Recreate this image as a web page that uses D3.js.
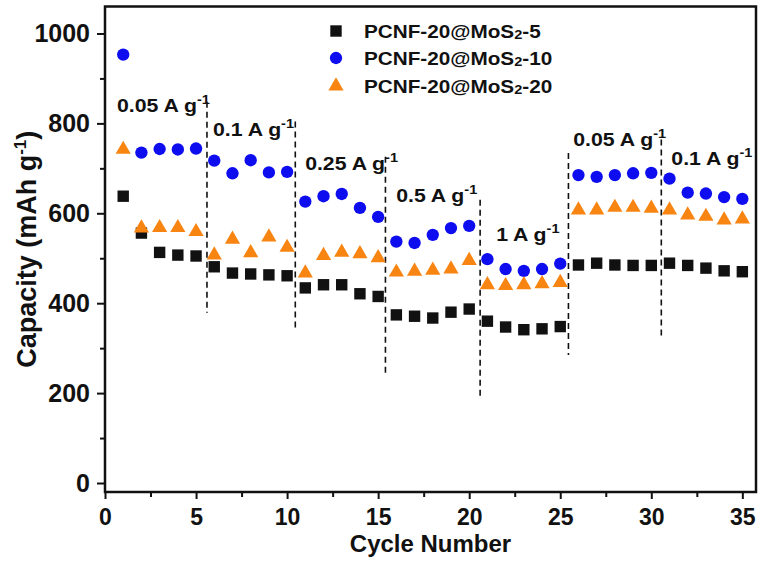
<!DOCTYPE html>
<html>
<head>
<meta charset="utf-8">
<script src="https://cdn.jsdelivr.net/npm/d3@7"></script>
<style>
  body{margin:0;background:#fff;}
  svg text{font-family:"Liberation Sans",Arial,sans-serif;font-weight:bold;fill:#111;}
</style>
</head>
<body>
<div id="grafico"></div>
<script>
// datos
const ciclos = [1,2,3,4,5,6,7,8,9,10,11,12,13,14,15,16,17,18,19,20,21,22,23,24,25,26,27,28,29,30,31,32,33,34,35];
const mos2_5  = [638,556,513,507,505,481,467,465,463,461,434,441,441,421,415,374,371,367,380,387,360,347,341,343,348,485,489,485,484,484,489,484,478,472,470];
const mos2_10 = [953,735,743,742,744,717,689,718,691,692,626,638,643,612,592,537,534,552,567,572,498,476,472,476,488,685,681,685,689,690,677,646,644,636,632];
const mos2_20 = [742,567,568,568,559,507,542,512,547,524,467,506,513,510,501,469,471,473,476,495,441,439,441,443,446,607,607,613,613,611,607,596,593,585,587];
const series = ["PCNF-20@MoS2-5","PCNF-20@MoS2-10","PCNF-20@MoS2-20"];

// corrientes: texto, posicion (ciclo, capacidad) y separadores
const corrientes = ["0.05","0.1","0.25","0.5","1","0.05","0.1"];
const etiquetaX  = [0.66,5.93,10.99,15.99,21.48,25.71,31.1];
const etiquetaY  = [825,772,696,625,538,750,707];
const separX     = [5.6,10.45,15.4,20.6,25.45,30.55];
const separTop   = [848,804,726,630,734,764];
const separBot   = [379,337,237,185,285,319];

const xTicks = [0,5,10,15,20,25,30,35];
const yTicks = [0,200,400,600,800,1000];

const ancho=761, alto=566;
const margin={top:6.5,left:105,right:5,bottom:74};

const svg=d3.select("#grafico").append("svg")
  .attr("width",ancho).attr("height",alto);

const x=d3.scaleLinear().domain([0,35.75]).range([margin.left,ancho-margin.right]);
const y=d3.scaleLinear().domain([-20,1060]).range([alto-margin.bottom,margin.top]);

// ejes
const ejeX=svg.append("g").attr("transform",`translate(0,${y(-20)})`)
  .call(d3.axisBottom(x).tickValues(xTicks).tickSize(7).tickFormat(d3.format("d")));
ejeX.select(".domain").remove();
ejeX.selectAll("line").attr("stroke","#111").attr("stroke-width",2);
ejeX.selectAll("text").attr("y",33).attr("dy",null).style("font-size","23px");

svg.append("g").attr("transform",`translate(0,${y(-20)})`)
  .call(d3.axisBottom(x).tickValues(d3.range(2.5,35,5)).tickSize(5).tickFormat(""))
  .call(g=>g.select(".domain").remove())
  .selectAll("line").attr("stroke","#111").attr("stroke-width",2);

const ejeY=svg.append("g").attr("transform",`translate(${x(0)},0)`)
  .call(d3.axisLeft(y).tickValues(yTicks).tickSize(8).tickPadding(7).tickFormat(d3.format("d")));
ejeY.select(".domain").remove();
ejeY.selectAll("line").attr("stroke","#111").attr("stroke-width",2);
ejeY.selectAll("text").style("font-size","25px");

svg.append("g").attr("transform",`translate(${x(0)},0)`)
  .call(d3.axisLeft(y).tickValues([100,300,500,700,900]).tickSize(5).tickFormat(""))
  .call(g=>g.select(".domain").remove())
  .selectAll("line").attr("stroke","#111").attr("stroke-width",2);

// marco
svg.append("rect")
  .attr("x",x(0)).attr("y",y(1060))
  .attr("width",x(35.75)-x(0)).attr("height",y(-20)-y(1060))
  .attr("fill","none").attr("stroke","#111").attr("stroke-width",2.5);

// titulos
svg.append("text").attr("x",(x(0)+x(35.75))/2).attr("y",552)
  .attr("text-anchor","middle").style("font-size","24px").text("Cycle Number");

const tituloY=svg.append("text")
  .attr("transform",`translate(36,${(y(1060)+y(-20))/2}) rotate(-90)`)
  .attr("text-anchor","middle").style("font-size","27px");
tituloY.append("tspan").text("Capacity (mAh g");
tituloY.append("tspan").attr("dy",-10).style("font-size","17px").text("-1");
tituloY.append("tspan").attr("dy",10).text(")");

// separadores
svg.selectAll(".separador").data(separX).enter().append("line")
  .attr("class","separador")
  .attr("x1",d=>x(d)).attr("x2",d=>x(d))
  .attr("y1",(d,i)=>y(separTop[i])).attr("y2",(d,i)=>y(separBot[i]))
  .attr("stroke","#111").attr("stroke-width",1.6).attr("stroke-dasharray","6 4");

// etiquetas de corriente
corrientes.forEach(function(c,i){
  const t=svg.append("text")
    .attr("transform",`translate(${x(etiquetaX[i])},${y(etiquetaY[i])}) scale(1.12,1)`)
    .style("font-size","19px");
  t.append("tspan").text(c+" A g");
  t.append("tspan").attr("dy",-8).style("font-size","13px").text("-1");
});

// datos
const colores=["#111","#0d0df0","#f88412"];
const simbolos=[d3.symbolSquare,d3.symbolCircle,d3.symbolTriangle];
const tamanos=[130,120,100];
const valores=[mos2_5,mos2_10,mos2_20];

valores.forEach(function(v,s){
  svg.append("g").selectAll("path").data(ciclos).enter().append("path")
    .attr("d",d3.symbol().type(simbolos[s]).size(tamanos[s]))
    .attr("transform",(d,i)=>`translate(${x(d)},${y(v[i])})`)
    .attr("fill",colores[s]);
});

// leyenda
const leyendaY=[31,58,86];
series.forEach(function(nombre,s){
  svg.append("path")
    .attr("d",d3.symbol().type(simbolos[s]).size(tamanos[s]))
    .attr("transform",`translate(336,${leyendaY[s]})`)
    .attr("fill",colores[s]);
  const partes=nombre.split("MoS2");
  const t=svg.append("text")
    .attr("transform",`translate(364,${leyendaY[s]+7}) scale(1.12,1)`)
    .style("font-size","18.5px");
  t.append("tspan").text(partes[0]+"MoS");
  t.append("tspan").attr("dy",1).style("font-size","13px").text("2");
  t.append("tspan").attr("dy",-1).text(partes[1]);
});
</script>
</body>
</html>
